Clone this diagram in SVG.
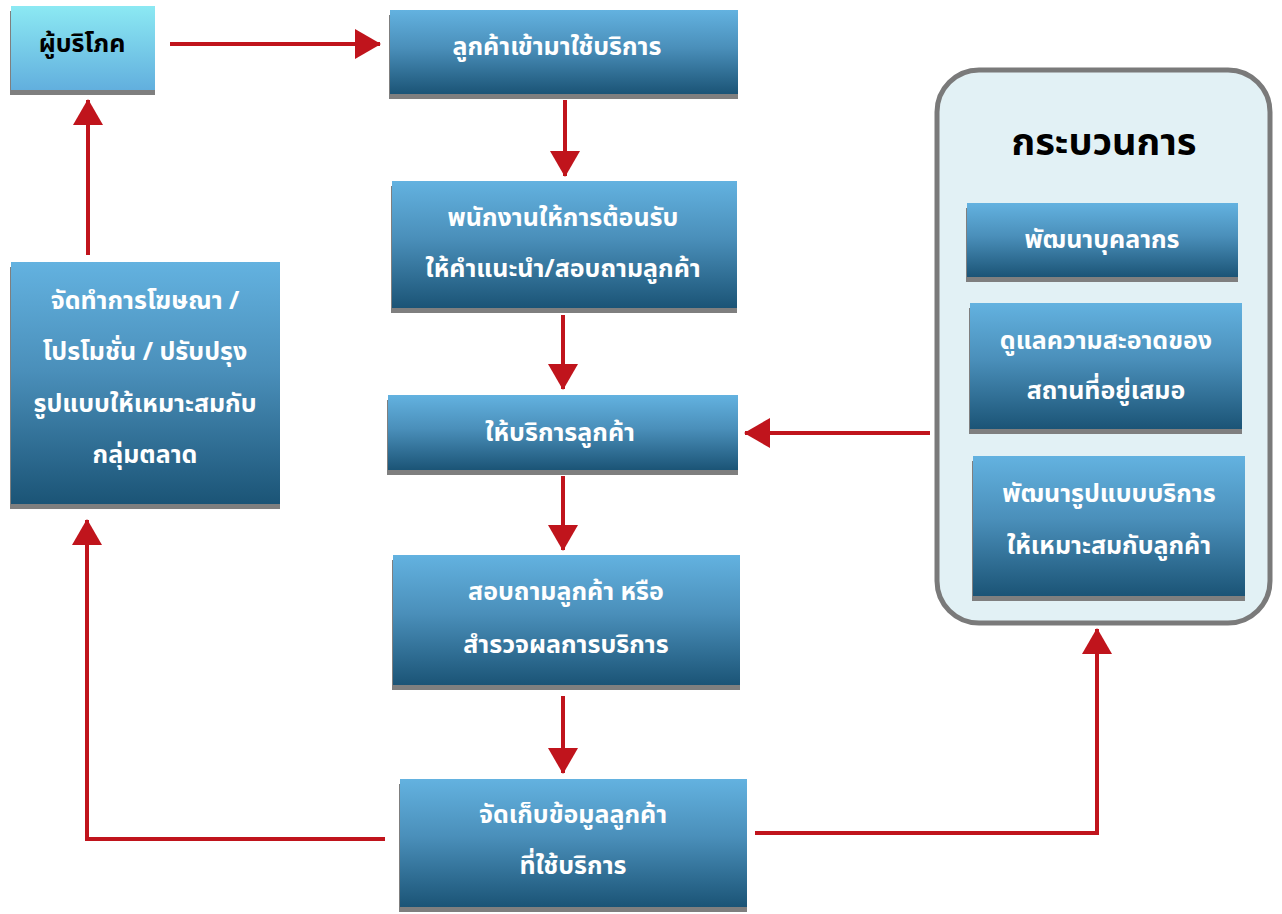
<svg xmlns="http://www.w3.org/2000/svg" width="1282" height="914" viewBox="0 0 1282 914">
<defs>
<linearGradient id="gBox" x1="0" y1="0" x2="0" y2="1">
<stop offset="0" stop-color="#63b2e0"/>
<stop offset="0.45" stop-color="#4a8fba"/>
<stop offset="1" stop-color="#1b5476"/>
</linearGradient>
<linearGradient id="gCons" x1="0" y1="0" x2="0" y2="1">
<stop offset="0" stop-color="#8ce9f3"/>
<stop offset="1" stop-color="#62afde"/>
</linearGradient>
<marker id="ah" viewBox="0 0 26 30" refX="25" refY="15" markerWidth="26" markerHeight="30" markerUnits="userSpaceOnUse" orient="auto">
<path d="M0,0 L26,15 L0,30 Z" fill="#c0141c"/>
</marker>
</defs>
<style>
.box{fill:url(#gBox);}
.sh{fill:#7f7f7f;}
.t{font-family:"Noto Sans Thai","Noto Sans","DejaVu Sans",sans-serif;font-weight:bold;font-size:25px;fill:#ffffff;text-anchor:middle;dominant-baseline:central;}
.tk{fill:#000000;}
.c{fill:none;stroke:#c0141c;stroke-width:4;marker-end:url(#ah);}
</style>
<rect width="1282" height="914" fill="#ffffff"/>

<g id="panel">
<rect x="937" y="70" width="333" height="553" rx="42" ry="42" fill="#e2f1f5" stroke="#7a7a7a" stroke-width="5"/>
<text class="t tk" x="1104" y="143" style="font-size:38px">กระบวนการ</text>
</g>

<g id="consumer">
<rect class="sh" x="10" y="11" width="145" height="84"/>
<rect x="11" y="6" width="144" height="84" fill="url(#gCons)"/>
<text class="t tk" x="82" y="44" style="font-size:25px">ผู้บริโภค</text>
</g>

<g id="n1">
<rect class="sh" x="389" y="15" width="349" height="84"/>
<rect class="box" x="390" y="10" width="348" height="84"/>
<text class="t" x="557" y="47">ลูกค้าเข้ามาใช้บริการ</text>
</g>

<g id="n2">
<rect class="sh" x="391" y="186" width="346" height="127"/>
<rect class="box" x="392" y="181" width="345" height="127"/>
<text class="t" x="563" y="218">พนักงานให้การต้อนรับ</text>
<text class="t" x="563" y="269">ให้คำแนะนำ/สอบถามลูกค้า</text>
</g>

<g id="n3">
<rect class="sh" x="387" y="400" width="351" height="75"/>
<rect class="box" x="388" y="395" width="350" height="75"/>
<text class="t" x="560" y="433">ให้บริการลูกค้า</text>
</g>

<g id="n4">
<rect class="sh" x="392" y="560" width="348" height="130"/>
<rect class="box" x="393" y="555" width="347" height="130"/>
<text class="t" x="566" y="592">สอบถามลูกค้า หรือ</text>
<text class="t" x="566" y="645">สำรวจผลการบริการ</text>
</g>

<g id="n5">
<rect class="sh" x="399" y="784" width="348" height="128"/>
<rect class="box" x="400" y="779" width="347" height="128"/>
<text class="t" x="573" y="815">จัดเก็บข้อมูลลูกค้า</text>
<text class="t" x="573" y="866">ที่ใช้บริการ</text>
</g>

<g id="n6">
<rect class="sh" x="10" y="267" width="270" height="242"/>
<rect class="box" x="11" y="262" width="269" height="242"/>
<text class="t" x="145" y="301">จัดทำการโฆษณา /</text>
<text class="t" x="145" y="352">โปรโมชั่น / ปรับปรุง</text>
<text class="t" x="145" y="404">รูปแบบให้เหมาะสมกับ</text>
<text class="t" x="145" y="455">กลุ่มตลาด</text>
</g>

<g id="p1">
<rect class="sh" x="966" y="208" width="272" height="74"/>
<rect class="box" x="967" y="203" width="271" height="74"/>
<text class="t" x="1102" y="240">พัฒนาบุคลากร</text>
</g>

<g id="p2">
<rect class="sh" x="969" y="308" width="273" height="126"/>
<rect class="box" x="970" y="303" width="272" height="126"/>
<text class="t" x="1106" y="341">ดูแลความสะอาดของ</text>
<text class="t" x="1106" y="391">สถานที่อยู่เสมอ</text>
</g>

<g id="p3">
<rect class="sh" x="972" y="461" width="273" height="140"/>
<rect class="box" x="973" y="456" width="272" height="140"/>
<text class="t" x="1109" y="494">พัฒนารูปแบบบริการ</text>
<text class="t" x="1109" y="546">ให้เหมาะสมกับลูกค้า</text>
</g>

<g id="connectors">
<line class="c" x1="170" y1="44" x2="380" y2="44"/>
<line class="c" x1="565" y1="100" x2="565" y2="176"/>
<line class="c" x1="563" y1="315" x2="563" y2="389"/>
<line class="c" x1="563" y1="476" x2="563" y2="550"/>
<line class="c" x1="563" y1="696" x2="563" y2="773"/>
<line class="c" x1="930" y1="433" x2="745" y2="433"/>
<line class="c" x1="88" y1="255" x2="88" y2="100"/>
<polyline class="c" points="385,839 87,839 87,520"/>
<polyline class="c" points="755,833 1097,833 1097,629"/>
</g>
</svg>
